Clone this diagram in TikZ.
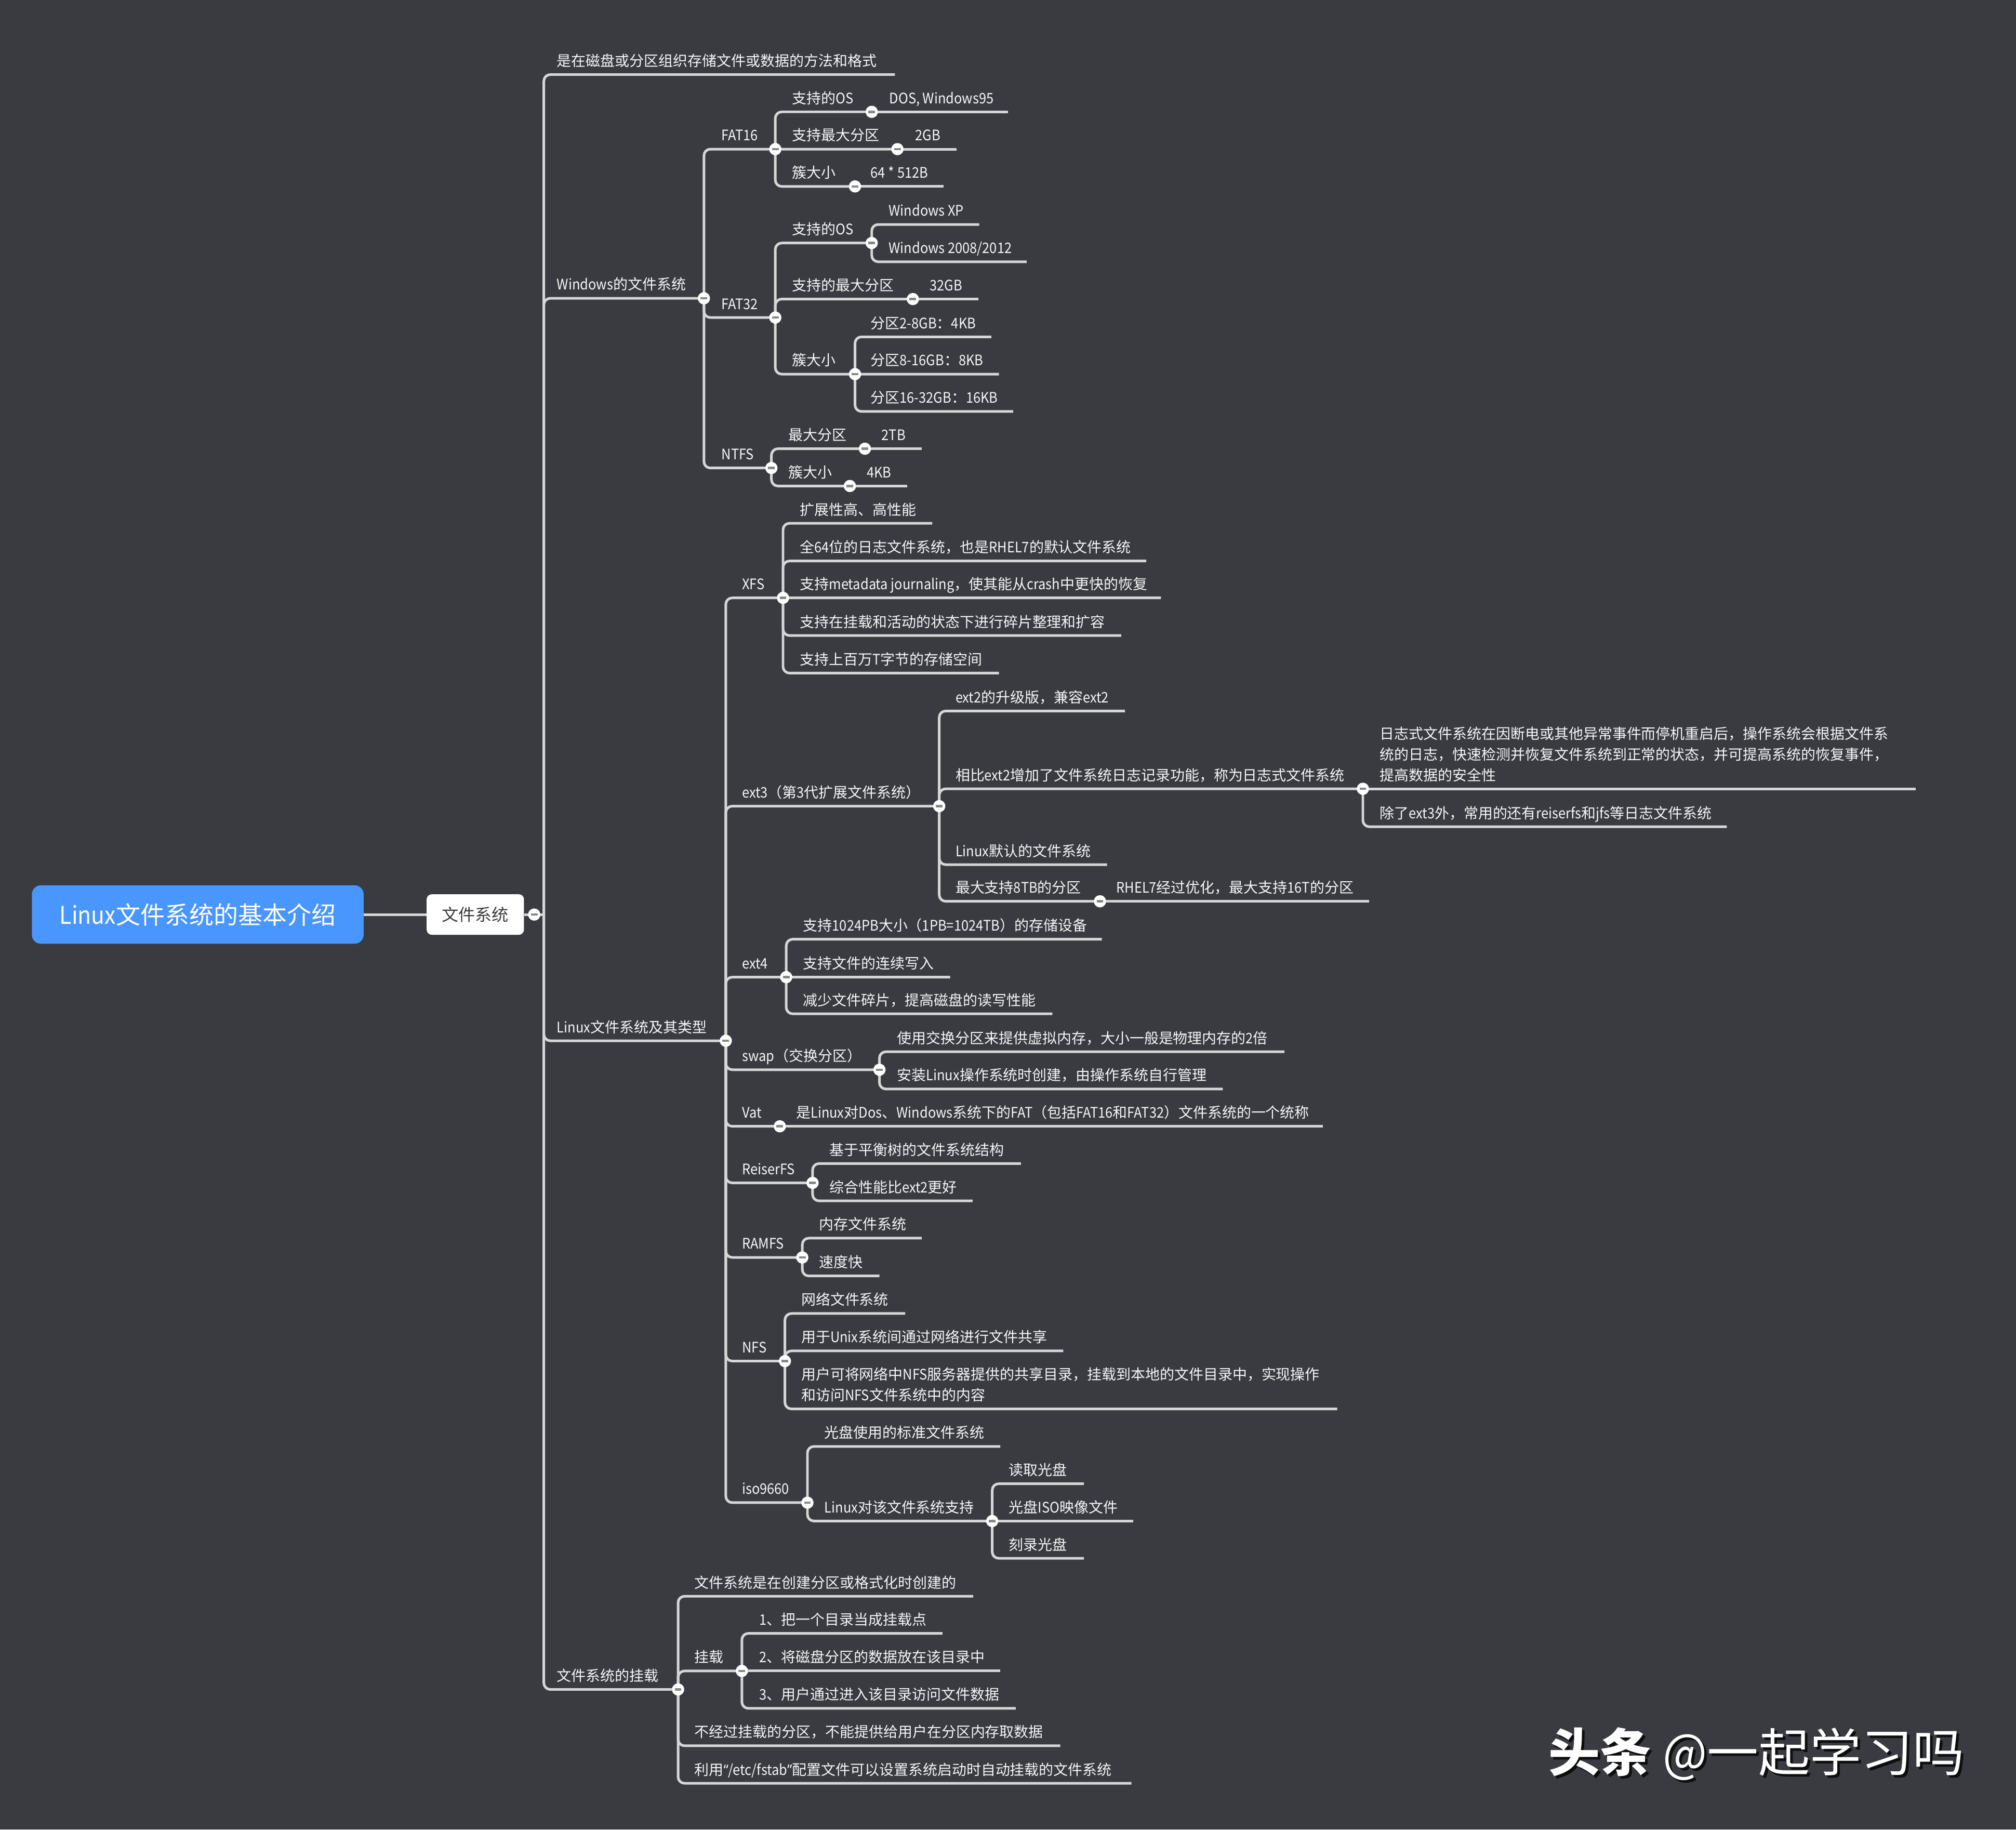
\documentclass[tikz,border=0pt]{standalone}
\usepackage{fontspec}
\setmainfont{Noto Sans CJK SC}
\newfontfamily\cjkf{Noto Sans CJK SC}
\newfontfamily\latf[FakeStretch=0.91]{Noto Sans CJK SC}
\newfontfamily\qf[FakeStretch=0.91]{Noto Sans}
% switch to a narrower Latin face between CJK and Latin characters
\XeTeXinterchartokenstate=1
\newXeTeXintercharclass\cjkcls
\newXeTeXintercharclass\qcls
\newcount\cjkn
\cjkn="2E80
\loop \XeTeXcharclass\cjkn=\cjkcls \advance\cjkn by 1 \ifnum\cjkn<"A000 \repeat
\cjkn="FF00
\loop \XeTeXcharclass\cjkn=\cjkcls \advance\cjkn by 1 \ifnum\cjkn<"FFF0 \repeat
\XeTeXcharclass"201C=\qcls
\XeTeXcharclass"201D=\qcls
\XeTeXinterchartoks 0 \cjkcls = {\cjkf}
\XeTeXinterchartoks 4095 \cjkcls = {\cjkf}
\XeTeXinterchartoks \qcls \cjkcls = {\cjkf}
\XeTeXinterchartoks \cjkcls 0 = {\latf}
\XeTeXinterchartoks 4095 0 = {\latf}
\XeTeXinterchartoks \qcls 0 = {\latf}
\XeTeXinterchartoks \cjkcls \qcls = {\qf}
\XeTeXinterchartoks 0 \qcls = {\qf}
\XeTeXinterchartoks 4095 \qcls = {\qf}
\definecolor{bg}{RGB}{57,59,64}
\definecolor{ln}{RGB}{214,214,214}
\definecolor{txt}{RGB}{246,246,246}
\definecolor{rootblue}{RGB}{74,150,255}
\definecolor{mn}{RGB}{135,135,135}
\definecolor{boxtxt}{RGB}{60,60,60}
\begin{document}
\begin{tikzpicture}[x=1pt,y=-1pt,
 lbl/.style={anchor=base west, inner sep=0pt, yshift=6.5pt, text=txt, font=\fontsize{11.3}{16}\selectfont},
 mlbl/.style={lbl, align=left},
 br/.style={draw=ln, line width=2pt, rounded corners=5pt},
 col/.style={circle, fill=white, inner sep=0pt, minimum size=9.5pt,
   path picture={\draw[mn, line width=1.8pt] ([xshift=-2.6pt]path picture bounding box.center) -- ([xshift=2.6pt]path picture bounding box.center);}},
 rootbox/.style={fill=rootblue, rounded corners=7pt, minimum width=258pt, minimum height=45.4pt, inner sep=0pt, text=white, font=\fontsize{19}{19}\selectfont},
 fsbox/.style={fill=white, rounded corners=4pt, minimum width=75.7pt, minimum height=31.5pt, inner sep=0pt, text=boxtxt, font=\fontsize{13}{13}\selectfont},
 wm/.style={inner sep=0pt, font=\fontsize{40}{40}\selectfont},
]
\useasboundingbox (0,0) rectangle (1568,1423);
\fill[bg] (0,0) rectangle (1568,1423);

% ---------- root ----------
\node[rootbox] (root) at (153.8,711.3) {Linux文件系统的基本介绍};
\node[fsbox] (fs) at (369.7,711.3) {文件系统};
\coordinate (p0) at (415.5,711.3);
\coordinate (m) at (423,711.3);
\draw[br] (root) -- (fs);
\draw[br] (fs.east) -- (p0) -- (m);

% ---------- level 1 ----------
\node[lbl] (tA) at (433,58) {是在磁盘或分区组织存储文件或数据的方法和格式};
\coordinate (eA) at (696,58);
\draw[br] (m) |- (eA);
\node[lbl] (tW) at (433,232) {Windows的文件系统};
\coordinate (pW) at (547.5,232);
\draw[br] (m) |- (pW);
\node[lbl] (tL) at (433,809.5) {Linux文件系统及其类型};
\coordinate (pL) at (564.5,809.5);
\draw[br] (m) |- (pL);
\node[lbl] (tM) at (433,1314) {文件系统的挂载};
\coordinate (pM) at (527.4,1314);
\draw[br] (m) |- (pM);

% ---------- Windows ----------
\node[lbl] (t16) at (561,116) {FAT16};
\coordinate (p16) at (603,116);
\draw[br] (pW) |- (p16);
\node[lbl] (t32) at (561,247) {FAT32};
\coordinate (p32) at (603,247);
\draw[br] (pW) |- (p32);
\node[lbl] (tNT) at (561,364) {NTFS};
\coordinate (pNT) at (600,364);
\draw[br] (pW) |- (pNT);

% FAT16
\node[lbl] (ta1) at (616,87) {支持的OS};
\coordinate (pa1) at (678,87);
\draw[br] (p16) |- (pa1);
\node[lbl] (ta1a) at (691.5,87) {DOS, Windows95};
\coordinate (ea1a) at (784,87);
\draw[br] (pa1) -- (ea1a);
\node[lbl] (ta2) at (616,116) {支持最大分区};
\coordinate (pa2) at (698,116);
\draw[br] (p16) |- (pa2);
\node[lbl] (ta2a) at (711.6,116) {2GB};
\coordinate (ea2a) at (744,116);
\draw[br] (pa2) -- (ea2a);
\node[lbl] (ta3) at (616,145) {簇大小};
\coordinate (pa3) at (665,145);
\draw[br] (p16) |- (pa3);
\node[lbl] (ta3a) at (677,145) {64 * 512B};
\coordinate (ea3a) at (734,145);
\draw[br] (pa3) -- (ea3a);

% FAT32
\node[lbl] (tb1) at (616,189) {支持的OS};
\coordinate (pb1) at (678,189);
\draw[br] (p32) |- (pb1);
\node[lbl] (tb1a) at (691,174.6) {Windows XP};
\coordinate (eb1a) at (761.6,174.6);
\draw[br] (pb1) |- (eb1a);
\node[lbl] (tb1b) at (691,203.6) {Windows 2008/2012};
\coordinate (eb1b) at (798.5,203.6);
\draw[br] (pb1) |- (eb1b);
\node[lbl] (tb2) at (616,232.6) {支持的最大分区};
\coordinate (pb2) at (710,232.6);
\draw[br] (p32) |- (pb2);
\node[lbl] (tb2a) at (723,232.6) {32GB};
\coordinate (eb2a) at (761,232.6);
\draw[br] (pb2) -- (eb2a);
\node[lbl] (tb3) at (616,291) {簇大小};
\coordinate (pb3) at (665,291);
\draw[br] (p32) |- (pb3);
\node[lbl] (tb3a) at (677,262) {分区2-8GB：4KB};
\coordinate (eb3a) at (771,262);
\draw[br] (pb3) |- (eb3a);
\node[lbl] (tb3b) at (677,291) {分区8-16GB：8KB};
\coordinate (eb3b) at (777,291);
\draw[br] (pb3) |- (eb3b);
\node[lbl] (tb3c) at (677,320) {分区16-32GB：16KB};
\coordinate (eb3c) at (788,320);
\draw[br] (pb3) |- (eb3c);

% NTFS
\node[lbl] (tn1) at (613,349) {最大分区};
\coordinate (pn1) at (672.7,349);
\draw[br] (pNT) |- (pn1);
\node[lbl] (tn1a) at (685.5,349) {2TB};
\coordinate (en1a) at (717,349);
\draw[br] (pn1) -- (en1a);
\node[lbl] (tn2) at (613,378) {簇大小};
\coordinate (pn2) at (661,378);
\draw[br] (pNT) |- (pn2);
\node[lbl] (tn2a) at (674,378) {4KB};
\coordinate (en2a) at (705.6,378);
\draw[br] (pn2) -- (en2a);

% ---------- Linux ----------
\node[lbl] (tX) at (577,465) {XFS};
\coordinate (pX) at (609,465);
\draw[br] (pL) |- (pX);
\node[lbl] (tE3) at (577,627) {ext3（第3代扩展文件系统）};
\coordinate (pE3) at (730.5,627);
\draw[br] (pL) |- (pE3);
\node[lbl] (tE4) at (577,760) {ext4};
\coordinate (pE4) at (611.5,760);
\draw[br] (pL) |- (pE4);
\node[lbl] (tSw) at (577,832) {swap（交换分区）};
\coordinate (pSw) at (684,832);
\draw[br] (pL) |- (pSw);
\node[lbl] (tV) at (577,876) {Vat};
\coordinate (pV) at (606.5,876);
\draw[br] (pL) |- (pV);
\node[lbl] (tR) at (577,920) {ReiserFS};
\coordinate (pR) at (632,920);
\draw[br] (pL) |- (pR);
\node[lbl] (tRa) at (577,978) {RAMFS};
\coordinate (pRa) at (624,978);
\draw[br] (pL) |- (pRa);
\node[lbl] (tN) at (577,1058.6) {NFS};
\coordinate (pN) at (610.5,1058.6);
\draw[br] (pL) |- (pN);
\node[lbl] (tI) at (577,1168.7) {iso9660};
\coordinate (pI) at (628,1168.7);
\draw[br] (pL) |- (pI);

% XFS
\node[lbl] (tx1) at (622,407) {扩展性高、高性能};
\coordinate (ex1) at (725,407);
\draw[br] (pX) |- (ex1);
\node[lbl] (tx2) at (622,436.3) {全64位的日志文件系统，也是RHEL7的默认文件系统};
\coordinate (ex2) at (891.5,436.3);
\draw[br] (pX) |- (ex2);
\node[lbl] (tx3) at (622,465) {支持metadata journaling，使其能从crash中更快的恢复};
\coordinate (ex3) at (903,465);
\draw[br] (pX) |- (ex3);
\node[lbl] (tx4) at (622,494.3) {支持在挂载和活动的状态下进行碎片整理和扩容};
\coordinate (ex4) at (872,494.3);
\draw[br] (pX) |- (ex4);
\node[lbl] (tx5) at (622,523.5) {支持上百万T字节的存储空间};
\coordinate (ex5) at (777,523.5);
\draw[br] (pX) |- (ex5);

% ext3
\node[lbl] (te1) at (743,553) {ext2的升级版，兼容ext2};
\coordinate (ee1) at (875,553);
\draw[br] (pE3) |- (ee1);
\node[lbl] (te2) at (743,613.5) {相比ext2增加了文件系统日志记录功能，称为日志式文件系统};
\coordinate (pJ) at (1060,613.5);
\draw[br] (pE3) |- (pJ);
\node[mlbl] (tj1) at (1073,613.5) {日志式文件系统在因断电或其他异常事件而停机重启后，操作系统会根据文件系\\统的日志，快速检测并恢复文件系统到正常的状态，并可提高系统的恢复事件，\\提高数据的安全性};
\coordinate (ej1) at (1490,613.5);
\draw[br] (pJ) -- (ej1);
\node[lbl] (tj2) at (1073,643) {除了ext3外，常用的还有reiserfs和jfs等日志文件系统};
\coordinate (ej2) at (1343,643);
\draw[br] (pJ) |- (ej2);
\node[lbl] (te3) at (743,672.5) {Linux默认的文件系统};
\coordinate (ee3) at (861,672.5);
\draw[br] (pE3) |- (ee3);
\node[lbl] (te4) at (743,701) {最大支持8TB的分区};
\coordinate (pE8) at (855.5,701);
\draw[br] (pE3) |- (pE8);
\node[lbl] (te4a) at (868,701) {RHEL7经过优化，最大支持16T的分区};
\coordinate (ee4a) at (1065,701);
\draw[br] (pE8) -- (ee4a);

% ext4
\node[lbl] (tf1) at (624.5,730.5) {支持1024PB大小（1PB=1024TB）的存储设备};
\coordinate (ef1) at (857,730.5);
\draw[br] (pE4) |- (ef1);
\node[lbl] (tf2) at (624.5,760) {支持文件的连续写入};
\coordinate (ef2) at (739,760);
\draw[br] (pE4) |- (ef2);
\node[lbl] (tf3) at (624.5,788.5) {减少文件碎片，提高磁盘的读写性能};
\coordinate (ef3) at (818.5,788.5);
\draw[br] (pE4) |- (ef3);

% swap
\node[lbl] (ts1) at (697.6,818) {使用交换分区来提供虚拟内存，大小一般是物理内存的2倍};
\coordinate (es1) at (999,818);
\draw[br] (pSw) |- (es1);
\node[lbl] (ts2) at (697.6,847) {安装Linux操作系统时创建，由操作系统自行管理};
\coordinate (es2) at (951,847);
\draw[br] (pSw) |- (es2);

% Vat
\node[lbl] (tv1) at (619,876) {是Linux对Dos、Windows系统下的FAT（包括FAT16和FAT32）文件系统的一个统称};
\coordinate (ev1) at (1029,876);
\draw[br] (pV) -- (ev1);

% ReiserFS
\node[lbl] (tr1) at (645,905) {基于平衡树的文件系统结构};
\coordinate (er1) at (794,905);
\draw[br] (pR) |- (er1);
\node[lbl] (tr2) at (645,934) {综合性能比ext2更好};
\coordinate (er2) at (756.5,934);
\draw[br] (pR) |- (er2);

% RAMFS
\node[lbl] (tra1) at (637,963) {内存文件系统};
\coordinate (era1) at (717,963);
\draw[br] (pRa) |- (era1);
\node[lbl] (tra2) at (637,992.4) {速度快};
\coordinate (era2) at (684,992.4);
\draw[br] (pRa) |- (era2);

% NFS
\node[lbl] (tnf1) at (623,1021.6) {网络文件系统};
\coordinate (enf1) at (704,1021.6);
\draw[br] (pN) |- (enf1);
\node[lbl] (tnf2) at (623,1050.7) {用于Unix系统间通过网络进行文件共享};
\coordinate (enf2) at (827,1050.7);
\draw[br] (pN) |- (enf2);
\node[mlbl] (tnf3) at (623,1095.8) {用户可将网络中NFS服务器提供的共享目录，挂载到本地的文件目录中，实现操作\\和访问NFS文件系统中的内容};
\coordinate (enf3) at (1040,1095.8);
\draw[br] (pN) |- (enf3);

% iso9660
\node[lbl] (ti1) at (641,1125) {光盘使用的标准文件系统};
\coordinate (ei1) at (778,1125);
\draw[br] (pI) |- (ei1);
\node[lbl] (ti2) at (641,1183) {Linux对该文件系统支持};
\coordinate (pLs) at (771.7,1183);
\draw[br] (pI) |- (pLs);
\node[lbl] (tk1) at (784.5,1154) {读取光盘};
\coordinate (ek1) at (843,1154);
\draw[br] (pLs) |- (ek1);
\node[lbl] (tk2) at (784.5,1183) {光盘ISO映像文件};
\coordinate (ek2) at (881.5,1183);
\draw[br] (pLs) -- (ek2);
\node[lbl] (tk3) at (784.5,1212) {刻录光盘};
\coordinate (ek3) at (843,1212);
\draw[br] (pLs) |- (ek3);

% ---------- 挂载 ----------
\node[lbl] (tg1) at (540,1241.5) {文件系统是在创建分区或格式化时创建的};
\coordinate (eg1) at (757,1241.5);
\draw[br] (pM) |- (eg1);
\node[lbl] (tg2) at (540,1299.6) {挂载};
\coordinate (pG) at (577,1299.6);
\draw[br] (pM) |- (pG);
\node[lbl] (th1) at (590.4,1270.4) {1、把一个目录当成挂载点};
\coordinate (eh1) at (733,1270.4);
\draw[br] (pG) |- (eh1);
\node[lbl] (th2) at (590.4,1299.6) {2、将磁盘分区的数据放在该目录中};
\coordinate (eh2) at (778,1299.6);
\draw[br] (pG) -- (eh2);
\node[lbl] (th3) at (590.4,1328.7) {3、用户通过进入该目录访问文件数据};
\coordinate (eh3) at (790,1328.7);
\draw[br] (pG) |- (eh3);
\node[lbl] (tg3) at (540,1357.8) {不经过挂载的分区，不能提供给用户在分区内存取数据};
\coordinate (eg3) at (824.7,1357.8);
\draw[br] (pM) |- (eg3);
\node[lbl] (tg4) at (540,1387) {利用“/etc/fstab”配置文件可以设置系统启动时自动挂载的文件系统};
\coordinate (eg4) at (880,1387);
\draw[br] (pM) |- (eg4);

% ---------- collapse markers ----------
\foreach \c in {p0,pW,pL,pM,p16,p32,pNT,pa1,pa2,pa3,pb1,pb2,pb3,pn1,pn2,pX,pE3,pE4,pSw,pV,pR,pRa,pN,pI,pJ,pE8,pLs,pG}
  \node[col] (c\c) at (\c) {};

% ---------- watermark ----------
\node[wm, text=black, opacity=0.75] (wmshadow) at (1368,1366) {{\bfseries 头条} @一起学习吗};
\node[wm, text=white] (wmark) at (1366,1364) {{\bfseries 头条} @一起学习吗};
\end{tikzpicture}
\end{document}
